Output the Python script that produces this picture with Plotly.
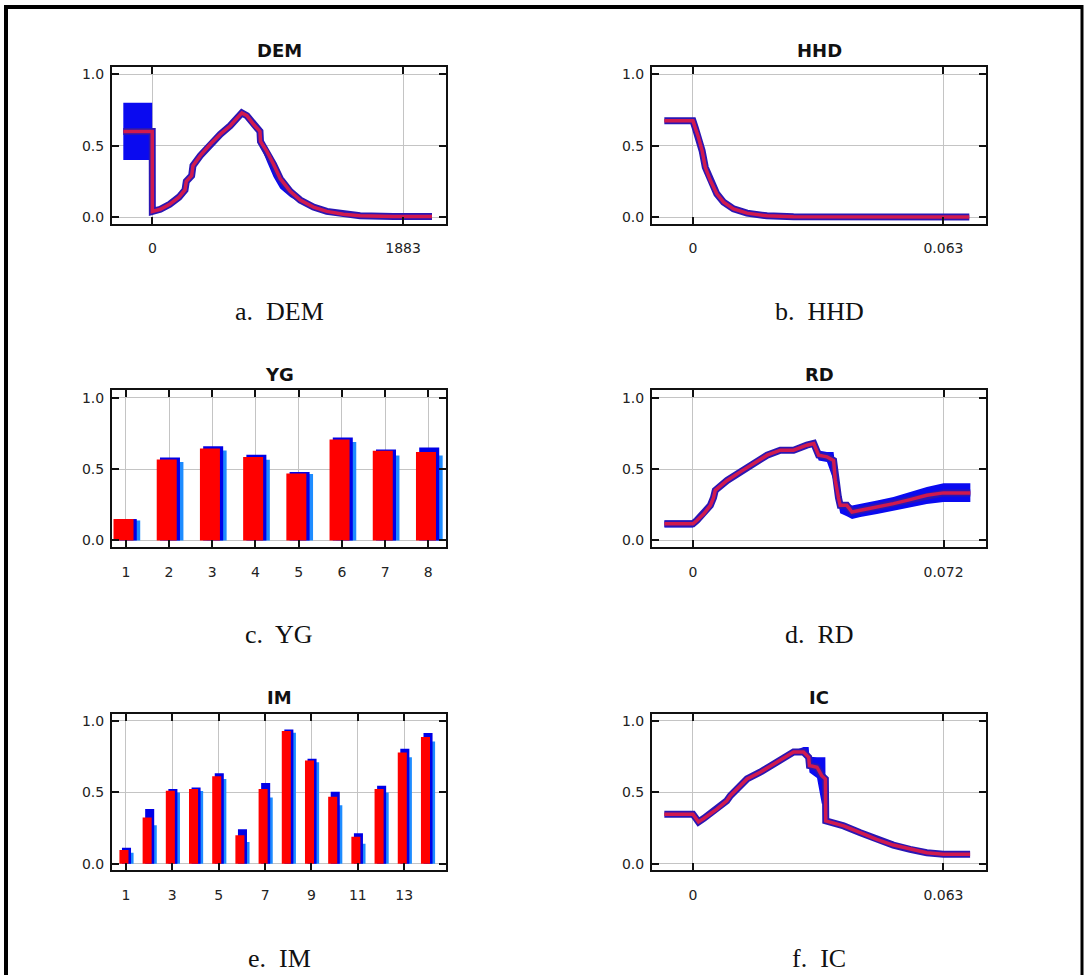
import plotly.graph_objects as go

W, H = 1085, 976

# ---------------- data ----------------
# a. DEM
DEM_x = [-218, -1, 0, 60, 130, 200, 245, 255, 295, 305, 360, 435, 510, 585, 672, 710, 760, 808, 812, 860, 910, 960, 1035, 1110, 1210, 1310, 1435, 1560, 1810, 2100]
DEM_mid = [0.60, 0.60, 0.04, 0.055, 0.09, 0.14, 0.19, 0.25, 0.29, 0.36, 0.43, 0.51, 0.58, 0.64, 0.73, 0.71, 0.65, 0.60, 0.53, 0.46, 0.37, 0.27, 0.18, 0.12, 0.07, 0.04, 0.02, 0.01, 0.005, 0.005]
DEM_lo = [0.40, 0.40, 0.04, 0.055, 0.09, 0.14, 0.19, 0.25, 0.29, 0.36, 0.43, 0.51, 0.58, 0.64, 0.73, 0.71, 0.65, 0.60, 0.50, 0.39, 0.28, 0.20, 0.14, 0.10, 0.06, 0.04, 0.02, 0.01, 0.005, 0.005]
DEM_hi = [0.80, 0.80, 0.04, 0.055, 0.09, 0.14, 0.19, 0.25, 0.29, 0.36, 0.43, 0.51, 0.58, 0.64, 0.73, 0.71, 0.65, 0.60, 0.55, 0.47, 0.37, 0.27, 0.18, 0.12, 0.07, 0.04, 0.02, 0.01, 0.005, 0.005]
DEM_ticks = [0, 1883]
DEM_ticktext = ["0", "1883"]

# b. HHD
HHD_x = [-0.0072, 0.0, 0.0006, 0.0014, 0.0023, 0.0031, 0.0044, 0.0060, 0.0077, 0.0102, 0.0136, 0.0186, 0.0253, 0.0695]
HHD_mid = [0.674, 0.674, 0.623, 0.558, 0.465, 0.349, 0.256, 0.163, 0.105, 0.058, 0.028, 0.009, 0.002, 0.0]
HHD_lo = [0.674, 0.674, 0.610, 0.540, 0.440, 0.330, 0.240, 0.155, 0.100, 0.056, 0.028, 0.009, 0.002, 0.0]
HHD_hi = [0.674, 0.674, 0.630, 0.570, 0.480, 0.365, 0.266, 0.170, 0.108, 0.060, 0.028, 0.009, 0.002, 0.0]
HHD_ticks = [0, 0.063]
HHD_ticktext = ["0", "0.063"]

# c. YG
YG_cat = [1, 2, 3, 4, 5, 6, 7, 8]
YG_red = [0.15, 0.567, 0.644, 0.585, 0.469, 0.707, 0.628, 0.62]
YG_blue = [0.15, 0.58, 0.66, 0.60, 0.48, 0.72, 0.637, 0.65]
YG_cyan = [0.14, 0.55, 0.63, 0.565, 0.465, 0.69, 0.595, 0.595]
YG_ticks = [1, 2, 3, 4, 5, 6, 7, 8]

# d. RD
RD_x = [-0.0082, 0.0, 0.0011, 0.0031, 0.0050, 0.0059, 0.0064, 0.0098, 0.0136, 0.0174, 0.0213, 0.0251, 0.0289, 0.0327, 0.0347, 0.0361, 0.0385, 0.0404, 0.0409, 0.0418, 0.0423, 0.0442, 0.0457, 0.0481, 0.0529, 0.0576, 0.0624, 0.0672, 0.0720, 0.0797]
RD_mid = [0.117, 0.117, 0.140, 0.187, 0.246, 0.300, 0.351, 0.420, 0.480, 0.539, 0.597, 0.632, 0.632, 0.667, 0.679, 0.597, 0.585, 0.560, 0.420, 0.300, 0.246, 0.246, 0.199, 0.211, 0.234, 0.258, 0.286, 0.316, 0.333, 0.333]
RD_lo = [0.090, 0.090, 0.120, 0.180, 0.240, 0.295, 0.345, 0.415, 0.475, 0.535, 0.593, 0.628, 0.628, 0.660, 0.670, 0.560, 0.550, 0.420, 0.400, 0.250, 0.190, 0.170, 0.150, 0.165, 0.185, 0.205, 0.230, 0.255, 0.270, 0.270]
RD_hi = [0.140, 0.140, 0.160, 0.195, 0.252, 0.305, 0.357, 0.425, 0.485, 0.543, 0.601, 0.636, 0.636, 0.674, 0.690, 0.630, 0.620, 0.620, 0.520, 0.320, 0.270, 0.265, 0.245, 0.255, 0.280, 0.305, 0.340, 0.375, 0.400, 0.400]
RD_ticks = [0, 0.072]
RD_ticktext = ["0", "0.072"]

# e. IM
IM_cat = [1, 2, 3, 4, 5, 6, 7, 8, 9, 10, 11, 12, 13, 14]
IM_red = [0.096, 0.324, 0.512, 0.523, 0.613, 0.20, 0.523, 0.93, 0.723, 0.469, 0.19, 0.523, 0.78, 0.887]
IM_blue = [0.113, 0.383, 0.523, 0.535, 0.634, 0.242, 0.566, 0.941, 0.735, 0.505, 0.214, 0.547, 0.805, 0.915]
IM_cyan = [0.077, 0.27, 0.50, 0.51, 0.594, 0.153, 0.465, 0.918, 0.711, 0.41, 0.141, 0.50, 0.746, 0.857]
IM_ticks = [1, 3, 5, 7, 9, 11, 13]

# f. IC
IC_x = [-0.0072, 0.0, 0.0006, 0.0014, 0.0027, 0.0060, 0.0085, 0.0094, 0.0119, 0.0136, 0.0169, 0.0211, 0.0253, 0.0278, 0.0291, 0.0293, 0.0312, 0.0324, 0.0333, 0.0334, 0.0379, 0.0421, 0.0462, 0.0504, 0.0546, 0.0588, 0.0630, 0.0697]
IC_mid = [0.347, 0.347, 0.324, 0.293, 0.317, 0.383, 0.441, 0.477, 0.547, 0.594, 0.641, 0.711, 0.782, 0.782, 0.746, 0.688, 0.676, 0.617, 0.594, 0.300, 0.265, 0.218, 0.171, 0.131, 0.101, 0.077, 0.066, 0.066]
IC_lo = [0.347, 0.347, 0.324, 0.293, 0.317, 0.383, 0.441, 0.477, 0.547, 0.594, 0.641, 0.711, 0.770, 0.770, 0.700, 0.640, 0.600, 0.420, 0.420, 0.300, 0.265, 0.218, 0.171, 0.131, 0.101, 0.077, 0.066, 0.066]
IC_hi = [0.347, 0.365, 0.330, 0.293, 0.317, 0.383, 0.441, 0.477, 0.547, 0.594, 0.641, 0.711, 0.790, 0.817, 0.817, 0.750, 0.746, 0.746, 0.746, 0.300, 0.265, 0.218, 0.171, 0.131, 0.101, 0.077, 0.066, 0.066]
IC_ticks = [0, 0.063]
IC_ticktext = ["0", "0.063"]

Y_ticks = [0, 0.5, 1.0]
Y_ticktext = ["0.0", "0.5", "1.0"]

titles = ["DEM", "HHD", "YG", "RD", "IM", "IC"]
captions = ["a.  DEM", "b.  HHD", "c.  YG", "d.  RD", "e.  IM", "f.  IC"]

# ---------------- layout geometry (pixels) ----------------
col_x = [(112, 446), (652, 986)]
row_y = [(66, 223), (390, 547), (714, 871)]
x_ranges = [[-303, 2205], [-0.0103, 0.0737], [0.68, 8.41], [-0.01178, 0.0842], [0.40, 14.8], [-0.0103, 0.0737]]
y_range = [-0.045, 1.052]

BLUE = "#0a0af0"
RED = "#d01a4e"

fig = go.Figure()


def add_curve(i, xs, mid, lo, hi):
    xa = "x" if i == 1 else f"x{i}"
    ya = "y" if i == 1 else f"y{i}"
    fig.add_trace(go.Scatter(x=xs + xs[::-1], y=hi + lo[::-1], fill="toself", fillcolor=BLUE,
                             line=dict(width=0, color=BLUE), mode="lines", xaxis=xa, yaxis=ya,
                             hoverinfo="skip", showlegend=False))
    fig.add_trace(go.Scatter(x=xs, y=mid, mode="lines", line=dict(color="#2a16b4", width=7),
                             xaxis=xa, yaxis=ya, showlegend=False))
    fig.add_trace(go.Scatter(x=xs, y=mid, mode="lines", line=dict(color=RED, width=3.5),
                             xaxis=xa, yaxis=ya, showlegend=False))


def add_bars(i, cats, red, blue, cyan, width, off_red, off_blue, off_cyan):
    xa = "x" if i == 1 else f"x{i}"
    ya = "y" if i == 1 else f"y{i}"
    fig.add_trace(go.Bar(x=cats, y=cyan, width=width, offset=off_cyan, marker=dict(color="#1e8cff", line=dict(width=0)),
                         xaxis=xa, yaxis=ya, showlegend=False))
    fig.add_trace(go.Bar(x=cats, y=blue, width=width, offset=off_blue, marker=dict(color="#0000e6", line=dict(width=0)),
                         xaxis=xa, yaxis=ya, showlegend=False))
    fig.add_trace(go.Bar(x=cats, y=red, width=width, offset=off_red, marker=dict(color="#ff0000", line=dict(width=0)),
                         xaxis=xa, yaxis=ya, showlegend=False))


add_curve(1, DEM_x, DEM_mid, DEM_lo, DEM_hi)
add_curve(2, HHD_x, HHD_mid, HHD_lo, HHD_hi)
add_bars(3, YG_cat, YG_red, YG_blue, YG_cyan, 0.463, -0.285, -0.21, -0.13)
add_curve(4, RD_x, RD_mid, RD_lo, RD_hi)
add_bars(5, IM_cat, IM_red, IM_blue, IM_cyan, 0.39, -0.28, -0.17, -0.06)
add_curve(6, IC_x, IC_mid, IC_lo, IC_hi)

tick_font = dict(family="DejaVu Sans", size=14, color="#222222")
xtick_sets = [(DEM_ticks, DEM_ticktext), (HHD_ticks, HHD_ticktext), (YG_ticks, [str(v) for v in YG_ticks]),
              (RD_ticks, RD_ticktext), (IM_ticks, [str(v) for v in IM_ticks]), (IC_ticks, IC_ticktext)]

layout = dict(width=W, height=H, margin=dict(l=0, r=0, t=0, b=0), paper_bgcolor="white",
              plot_bgcolor="white", barmode="overlay", showlegend=False)
annotations = []
for i in range(6):
    r, c = divmod(i, 2)
    x0, x1 = col_x[c]
    y0, y1 = row_y[r]
    suffix = "" if i == 0 else str(i + 1)
    anchor_x = "y" if i == 0 else f"y{i + 1}"
    anchor_y = "x" if i == 0 else f"x{i + 1}"
    tv, tt = xtick_sets[i]
    layout["xaxis" + suffix] = dict(domain=[x0 / W, x1 / W], range=x_ranges[i], anchor=anchor_x,
                                    tickvals=tv, ticktext=tt, ticks="inside", ticklen=7, tickwidth=2,
                                    tickcolor="#111111", showline=True, linecolor="#111111", linewidth=2,
                                    mirror="ticks", showgrid=True, gridcolor="#c4c4c4", gridwidth=1,
                                    zeroline=False, tickfont=tick_font, ticklabelstandoff=11, fixedrange=True)
    layout["yaxis" + suffix] = dict(domain=[1 - y1 / H, 1 - y0 / H], range=y_range, anchor=anchor_y,
                                    tickvals=Y_ticks, ticktext=Y_ticktext, ticks="inside", ticklen=7, tickwidth=2,
                                    tickcolor="#111111", showline=True, linecolor="#111111", linewidth=2,
                                    mirror="ticks", showgrid=True, gridcolor="#c4c4c4", gridwidth=1,
                                    zeroline=False, tickfont=tick_font, ticklabelstandoff=3, fixedrange=True)
    cx = (x0 + x1) / 2 / W
    annotations.append(dict(text="<b>" + titles[i] + "</b>", x=cx, y=1 - (y0 - 16) / H, xref="paper", yref="paper",
                            showarrow=False, xanchor="center", yanchor="middle",
                            font=dict(family="DejaVu Sans", size=18, color="#111111")))
    annotations.append(dict(text=captions[i], x=cx, y=1 - (y0 + 245) / H, xref="paper", yref="paper",
                            showarrow=False, xanchor="center", yanchor="middle",
                            font=dict(family="Liberation Serif", size=26, color="#111111")))

layout["annotations"] = annotations
layout["shapes"] = [
    dict(type="line", xref="paper", yref="paper", x0=4 / W, x1=1083 / W, y0=1 - 6 / H, y1=1 - 6 / H,
         line=dict(color="black", width=4)),
    dict(type="line", xref="paper", yref="paper", x0=6 / W, x1=6 / W, y0=0, y1=1 - 4 / H,
         line=dict(color="black", width=4)),
    dict(type="line", xref="paper", yref="paper", x0=1082 / W, x1=1082 / W, y0=0, y1=1 - 4 / H,
         line=dict(color="black", width=3)),
]
fig.update_layout(**layout)

fig.write_html("out.html", config={"displayModeBar": False},
               post_script="document.body.style.margin='0px';document.body.style.overflow='hidden';")
